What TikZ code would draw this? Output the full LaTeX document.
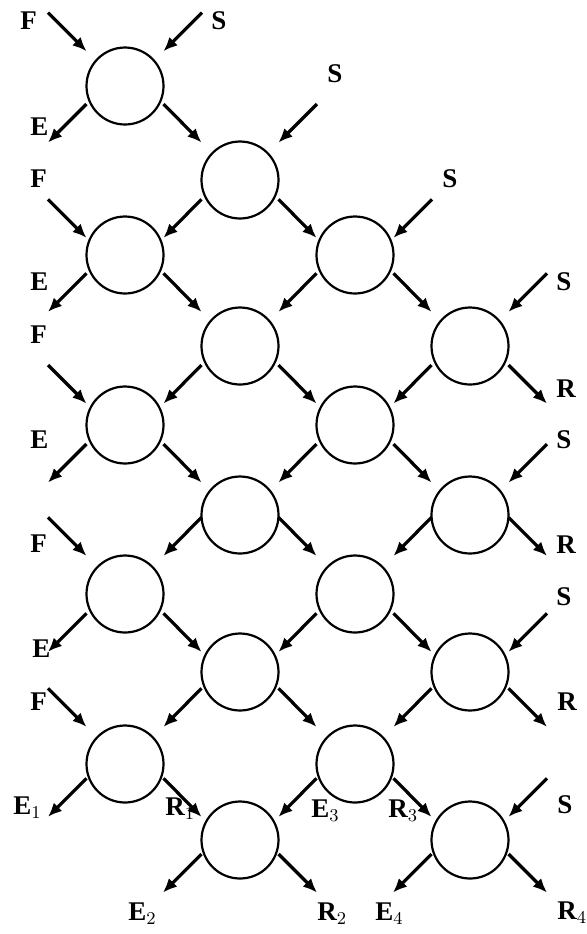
\documentclass[tikz,border=0pt]{standalone}
\usepackage{fontspec}
\setmainfont{Liberation Serif}
\usetikzlibrary{arrows.meta}
\newcommand{\goR}[3]{\draw[arr] ([yshift=-#3]#1.east) -- ([yshift=-#3-19.25pt]#1.east -| #2.west);}
\newcommand{\goL}[3]{\draw[arr] ([yshift=-#3]#1.west) -- ([yshift=-#3-19.25pt]#1.west -| #2.east);}
\newcommand{\outR}[3]{\draw[arr] ([yshift=-#2]#1.east) -- ++(19.25pt,-19.25pt) coordinate (#3);}
\newcommand{\outL}[3]{\draw[arr] ([yshift=-#2]#1.west) -- ++(-19.25pt,-19.25pt) coordinate (#3);}
\newcommand{\inF}[2]{\draw[arr] (#1) -- ([yshift=-19.25pt]#1 -| #2.west);}
\newcommand{\inS}[2]{\draw[arr] (#1) -- ([yshift=-19.25pt]#1 -| #2.east);}

\begin{document}
\begin{tikzpicture}[
  x=0.5pt, y=-0.5pt,
  cell/.style={circle, draw, line width=1.1pt, minimum size=38.5pt,
               inner sep=0pt, outer sep=0pt},
  arr/.style={-{Latex[length=7pt,width=6pt]}, line width=1.6pt},
  lbl/.style={anchor=base west, inner sep=0pt,
              font=\fontsize{13.5}{14}\selectfont\bfseries}
]
\useasboundingbox (0,0) rectangle (587,934);

\node[cell] (a1) at (125,86)  {};
\node[cell] (a2) at (125,255) {};
\node[cell] (a3) at (125,425) {};
\node[cell] (a4) at (125,594) {};
\node[cell] (a5) at (125,764) {};
\node[cell] (b1) at (240,180) {};
\node[cell] (b2) at (240,346) {};
\node[cell] (b3) at (240,515) {};
\node[cell] (b4) at (240,672) {};
\node[cell] (b5) at (240,840) {};
\node[cell] (c1) at (355,255) {};
\node[cell] (c2) at (355,425) {};
\node[cell] (c3) at (355,594) {};
\node[cell] (c4) at (355,764) {};
\node[cell] (d1) at (470,346) {};
\node[cell] (d2) at (470,515) {};
\node[cell] (d3) at (470,672) {};
\node[cell] (d4) at (470,840) {};

\coordinate (f1) at (48,12.7);
\coordinate (f2) at (48,199.3);
\coordinate (f3) at (48,365);
\coordinate (f4) at (48,517.3);
\coordinate (f5) at (48,688.3);
\coordinate (s0) at (202,12.7);
\coordinate (s1) at (317,104);
\coordinate (s2) at (432,199.3);
\coordinate (s3) at (547,273.3);
\coordinate (s4) at (547,444);
\coordinate (s5) at (547,613.3);
\coordinate (s6) at (547,778.3);

\inF{f1}{a1} \inF{f2}{a2} \inF{f3}{a3} \inF{f4}{a4} \inF{f5}{a5}
\inS{s0}{a1} \inS{s1}{b1} \inS{s2}{c1}
\inS{s3}{d1} \inS{s4}{d2} \inS{s5}{d3} \inS{s6}{d4}

\goR{a1}{b1}{9pt}
\goR{b1}{c1}{9.65pt}
\goR{a2}{b2}{9.15pt}
\goR{c1}{d1}{9.15pt}
\goR{b2}{c2}{9.5pt}
\goR{a3}{b3}{9.5pt}
\goR{c2}{d2}{9.5pt}
\goR{b3}{c3}{1.15pt}
\goR{a4}{b4}{9.65pt}
\goR{c3}{d3}{9.65pt}
\goR{b4}{c4}{8.15pt}
\goR{a5}{b5}{7.15pt}
\goR{c4}{d4}{7.15pt}

\goL{b1}{a2}{9.65pt}
\goL{c1}{b2}{9.15pt}
\goL{b2}{a3}{9.5pt}
\goL{d1}{c2}{9.5pt}
\goL{c2}{b3}{9.5pt}
\goL{b3}{a4}{1.15pt}
\goL{d2}{c3}{1.15pt}
\goL{c3}{b4}{9.65pt}
\goL{b4}{a5}{8.15pt}
\goL{d3}{c4}{8.15pt}
\goL{c4}{b5}{7.15pt}

\outL{a1}{9pt}{e1}
\outL{a2}{9.15pt}{e2}
\outL{a3}{9.5pt}{e3}
\outL{a4}{9.65pt}{e4}
\outL{a5}{7.15pt}{e5}
\outL{b5}{7pt}{e6}
\outL{d4}{7pt}{e7}
\outR{d1}{9.5pt}{r1}
\outR{d2}{1.15pt}{r2}
\outR{d3}{8.15pt}{r3}
\outR{b5}{7pt}{r4}
\outR{d4}{7pt}{r5}

\node[lbl] (tF1) at (20,29)   {F};
\node[lbl] (tS1) at (211,29)  {S};
\node[lbl] (tE1) at (30,135)  {E};
\node[lbl] (tF2) at (30,187)  {F};
\node[lbl] (tE2) at (30,290)  {E};
\node[lbl] (tS2) at (327,82)  {S};
\node[lbl] (tS3) at (442,187) {S};
\node[lbl] (tS4) at (556,290) {S};
\node[lbl] (tF3) at (30,343)  {F};
\node[lbl] (tE3) at (30,448)  {E};
\node[lbl] (tF4) at (30,552)  {F};
\node[lbl] (tR1) at (556,397) {R};
\node[lbl] (tS5) at (556,448) {S};
\node[lbl] (tR2) at (556,553) {R};
\node[lbl] (tS6) at (556,605) {S};
\node[lbl] (tE4) at (32,657)  {E};
\node[lbl] (tF5) at (30,710)  {F};
\node[lbl] (tR3) at (557,710) {R};
\node[lbl] (tS7) at (557,813) {S};
\node[lbl] (tE5) at (13,814)  {E$_1$};
\node[lbl] (tR4) at (165,815) {R$_1$};
\node[lbl] (tE6) at (311,817) {E$_3$};
\node[lbl] (tR5) at (388,817) {R$_3$};
\node[lbl] (tE7) at (128,920) {E$_2$};
\node[lbl] (tR6) at (317,920) {R$_2$};
\node[lbl] (tE8) at (375,920) {E$_4$};
\node[lbl] (tR7) at (557,919) {R$_4$};

\end{tikzpicture}
\end{document}
